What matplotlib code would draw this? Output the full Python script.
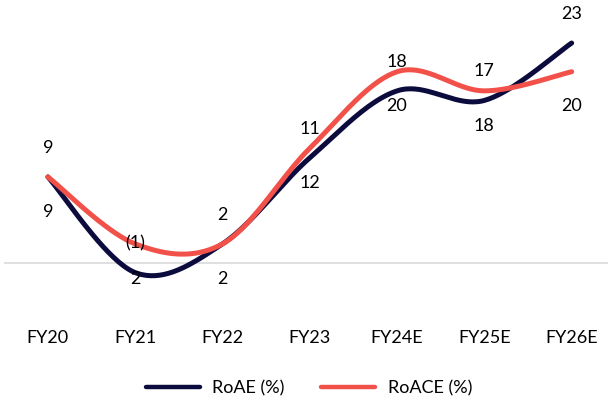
import matplotlib
matplotlib.use("Agg")
import matplotlib.pyplot as plt
from matplotlib.lines import Line2D
import numpy as np

plt.rcParams['font.family'] = ['Lato', 'DejaVu Sans']
plt.rcParams['font.size'] = 13

# Data (%)
years = ['FY20', 'FY21', 'FY22', 'FY23', 'FY24E', 'FY25E', 'FY26E']
roae = [9, -1, 2, 11, 18, 17, 23]
roace = [9, 2, 2, 12, 20, 18, 20]

color_roae = '#0c0b3d'
color_roace = '#f2514a'


def smooth(xs, ys, n=40):
    # Catmull-Rom style cubic Bezier through every point
    pts = np.column_stack([xs, ys]).astype(float)
    padded = np.vstack([pts[0], pts, pts[-1]])
    out = []
    t = np.linspace(0, 1, n)[:, None]
    for i in range(len(pts) - 1):
        p0, p1, p2, p3 = padded[i], padded[i + 1], padded[i + 2], padded[i + 3]
        c1 = p1 + (p2 - p0) / 6
        c2 = p2 - (p3 - p1) / 6
        seg = ((1 - t) ** 3) * p1 + 3 * ((1 - t) ** 2) * t * c1 \
            + 3 * (1 - t) * t ** 2 * c2 + t ** 3 * p2
        out.append(seg if i == 0 else seg[1:])
    seg = np.vstack(out)
    return seg[:, 0], seg[:, 1]


def fmt(v):
    return f'({abs(v)})' if v < 0 else f'{v}'


fig = plt.figure(figsize=(6.08, 4.01), dpi=100)
ax = fig.add_axes([0.007, 100 / 401, 1.005, 301 / 401])

x = np.arange(len(years))
ax.axhline(0, color='#d9d9d9', lw=1.2, zorder=1)

sx, sy = smooth(x, roae)
ax.plot(sx, sy, color=color_roae, lw=3.6, solid_capstyle='round', zorder=3)
sx, sy = smooth(x, roace)
ax.plot(sx, sy, color=color_roace, lw=3.6, solid_capstyle='round', zorder=4)

# value labels: RoAE above its point, RoACE below its point
for xi, v in zip(x, roae):
    ax.annotate(fmt(v), (xi, v), xytext=(0, 21), textcoords='offset points',
                ha='center', va='center', color='black', zorder=6)
for xi, v in zip(x, roace):
    ax.annotate(fmt(v), (xi, v), xytext=(0, -25), textcoords='offset points',
                ha='center', va='center', color='black', zorder=6)

ax.set_xlim(-0.5, 6.5)
ax.set_ylim(-3.97, 27.5)
ax.set_xticks(x)
ax.set_xticklabels(years)
ax.tick_params(axis='x', length=0, pad=21)
ax.set_yticks([])
for s in ax.spines.values():
    s.set_visible(False)

handles = [Line2D([], [], color=color_roae, lw=3.2, solid_capstyle='round'),
           Line2D([], [], color=color_roace, lw=3.2, solid_capstyle='round')]
fig.legend(handles, ['RoAE (%)', 'RoACE (%)'], loc='center',
           bbox_to_anchor=(0.508, 0.032), ncol=2, frameon=False,
           handlelength=3.0, columnspacing=2.0, handletextpad=0.7)

fig.savefig('out.png', dpi=100)
